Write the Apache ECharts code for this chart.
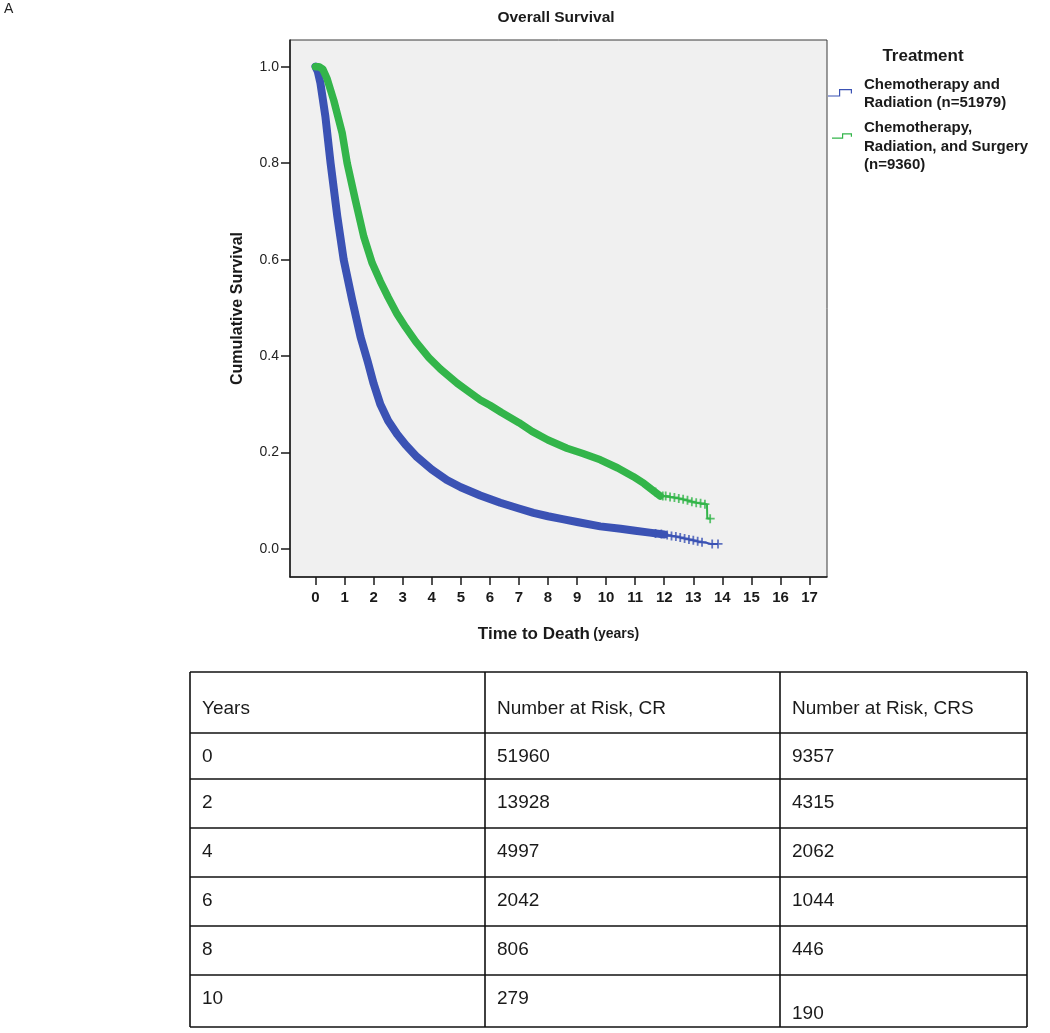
<!DOCTYPE html>
<html>
<head>
<meta charset="utf-8">
<script src="https://cdn.jsdelivr.net/npm/echarts@6/dist/echarts.min.js"></script>
<style>
html,body{margin:0;padding:0;background:#fff;}
#main{width:1050px;height:1033px;}
</style>
</head>
<body>
<div id="main"></div>
<script>
// ---- data ----
const yearTicks = [0,1,2,3,4,5,6,7,8,9,10,11,12,13,14,15,16,17];
const survivalTicks = [0,0.2,0.4,0.6,0.8,1.0];

const crName = 'Chemotherapy and Radiation (n=51979)';
const crsName = 'Chemotherapy, Radiation, and Surgery (n=9360)';
const crLabel = 'Chemotherapy and\nRadiation (n=51979)';
const crsLabel = 'Chemotherapy,\nRadiation, and Surgery\n(n=9360)';

// Kaplan-Meier estimates: [years, cumulative survival]
const crCurve = [[0,1.0],[0.08,0.99],[0.17,0.966],[0.34,0.897],[0.52,0.80],[0.75,0.69],[0.97,0.60],[1.26,0.517],[1.55,0.44],[1.8,0.388],[2.0,0.343],[2.23,0.300],[2.5,0.266],[2.81,0.238],[3.1,0.216],[3.49,0.191],[4.0,0.165],[4.52,0.143],[5.0,0.128],[5.67,0.111],[6.36,0.096],[7.0,0.084],[7.5,0.075],[8.0,0.068],[8.5,0.062],[9.0,0.056],[9.8,0.047],[10.5,0.042],[11.0,0.038],[11.5,0.034],[12.0,0.030]];
const crTail = [[12.0,0.030],[12.4,0.026],[12.7,0.022],[13.0,0.018],[13.2,0.015],[13.45,0.013],[13.6,0.0105],[13.85,0.0105]];
const crCensor = [[11.7,0.032],[11.9,0.031],[12.1,0.029],[12.25,0.027],[12.4,0.026],[12.55,0.024],[12.7,0.022],[12.85,0.020],[13.0,0.018],[13.15,0.016],[13.3,0.014],[13.65,0.0105],[13.85,0.0105]];

const crsCurve = [[0,1.0],[0.12,1.0],[0.25,0.995],[0.4,0.975],[0.63,0.93],[0.92,0.862],[1.09,0.80],[1.37,0.724],[1.66,0.648],[1.95,0.593],[2.23,0.555],[2.5,0.522],[2.81,0.487],[3.1,0.46],[3.45,0.43],[3.9,0.397],[4.3,0.373],[4.87,0.344],[5.3,0.325],[5.67,0.309],[6.0,0.298],[6.4,0.283],[7.0,0.262],[7.45,0.244],[8.0,0.226],[8.65,0.209],[9.2,0.198],[9.8,0.185],[10.4,0.168],[10.94,0.150],[11.3,0.136],[11.6,0.122],[11.86,0.110]];
const crsTail = [[11.86,0.110],[12.1,0.109],[12.3,0.107],[12.5,0.105],[12.7,0.102],[12.9,0.099],[13.1,0.096],[13.3,0.094],[13.47,0.093],[13.48,0.064],[13.6,0.063]];
const crsCensor = [[11.7,0.118],[11.95,0.110],[12.05,0.110],[12.2,0.108],[12.35,0.107],[12.5,0.105],[12.65,0.103],[12.8,0.101],[12.95,0.098],[13.1,0.096],[13.25,0.095],[13.4,0.093],[13.58,0.063]];

// Number at risk table
const tableHeader = ['Years', 'Number at Risk, CR', 'Number at Risk, CRS'];
const riskYears = [0, 2, 4, 6, 8, 10];
const riskCR = [51960, 13928, 4997, 2042, 806, 279];
const riskCRS = [9357, 4315, 2062, 1044, 446, 190];

// ---- styles ----
const FONT = '"Liberation Sans", Arial, Helvetica, sans-serif';
const BLUE = '#3b52b4';
const GREEN = '#33b54a';
const PLUS = 'path://M4,0 L6,0 L6,4 L10,4 L10,6 L6,6 L6,10 L4,10 L4,6 L0,6 L0,4 L4,4 Z';
const ICON_CR = 'path://M0,0 L0,0 Z M31,36 L31,36 Z M0,19.4 L11,19.4 L11,13 L24,13 L24,17.5 L22.8,17.5 L22.8,14.2 L12.2,14.2 L12.2,20.6 L0,20.6 Z';
const ICON_CRS = 'path://M0,0 L0,0 Z M31,54 L31,54 Z M4,17.7 L14,17.7 L14,13.5 L24,13.5 L24,17 L22.8,17 L22.8,14.7 L15.2,14.7 L15.2,18.9 L4,18.9 Z';

// table graphic built from arrays
const colX = [190, 485, 780, 1027];
const rowY = [672, 733, 779, 828, 877, 926, 975, 1027];
const tableEls = [];
rowY.forEach(function (y) {
  tableEls.push({type:'line', shape:{x1:colX[0], y1:y, x2:colX[3], y2:y}, style:{stroke:'#111', lineWidth:1.6}});
});
colX.forEach(function (x) {
  tableEls.push({type:'line', shape:{x1:x, y1:rowY[0], x2:x, y2:rowY[rowY.length-1]}, style:{stroke:'#111', lineWidth:1.6}});
});
function cellText(txt, col, row, extra) {
  const top = rowY[row];
  const off = row === 0 ? 37 : 24;
  tableEls.push({type:'text', x: colX[col] + 12, y: top + off + (extra || 0),
    style:{text: String(txt), font: '19px ' + FONT, fill:'#1a1a1a', verticalAlign:'middle', align:'left'}});
}
tableHeader.forEach(function (t, c) { cellText(t, c, 0); });
riskYears.forEach(function (yv, i) {
  cellText(yv, 0, i + 1);
  cellText(riskCR[i], 1, i + 1);
  cellText(riskCRS[i], 2, i + 1, i === riskYears.length - 1 ? 15 : 0);
});

const chart = echarts.init(document.getElementById('main'), null, {renderer:'canvas', width:1050, height:1033});
chart.setOption({
  animation: false,
  backgroundColor: '#ffffff',
  textStyle: {fontFamily: FONT},
  grid: {left:290, top:40, width:537, height:537, show:true, backgroundColor:'#f0f0f0', borderColor:'#3a3a3a', borderWidth:1, containLabel:false},
  legend: [
    {data:[{name:crName, icon:ICON_CR}], left:828, top:76, orient:'vertical', padding:0, itemWidth:31, itemHeight:36,
     selectedMode:false, itemStyle:{borderWidth:0},
     formatter: function () { return crLabel; },
     textStyle:{fontFamily:FONT, fontWeight:'bold', fontSize:15, lineHeight:18, color:'#1a1a1a'}},
    {data:[{name:crsName, icon:ICON_CRS}], left:828, top:119, orient:'vertical', padding:0, itemWidth:31, itemHeight:54,
     selectedMode:false, itemStyle:{borderWidth:0},
     formatter: function () { return crsLabel; },
     textStyle:{fontFamily:FONT, fontWeight:'bold', fontSize:15, lineHeight:18.5, color:'#1a1a1a'}}
  ],
  xAxis: {
    type:'value', min:-0.877, max:17.6,
    axisLine:{show:true, onZero:false, lineStyle:{color:'#1a1a1a', width:1.5}},
    axisTick:{show:true, customValues:yearTicks, length:8, lineStyle:{color:'#1a1a1a', width:1.5}},
    axisLabel:{show:true, customValues:yearTicks, margin:13, fontFamily:FONT, fontWeight:'bold', fontSize:15, color:'#1a1a1a'},
    splitLine:{show:false},
    name:'{a|Time to Death} {b|(years)}', nameLocation:'middle', nameGap:49,
    nameTextStyle:{rich:{a:{fontFamily:FONT, fontWeight:'bold', fontSize:17, color:'#1a1a1a'}, b:{fontFamily:FONT, fontWeight:'bold', fontSize:14, color:'#1a1a1a'}}}
  },
  yAxis: {
    type:'value', min:-0.058, max:1.0554,
    axisLine:{show:true, onZero:false, lineStyle:{color:'#1a1a1a', width:1.5}},
    axisTick:{show:true, customValues:survivalTicks, length:9, lineStyle:{color:'#1a1a1a', width:1.5}},
    axisLabel:{show:true, customValues:survivalTicks, margin:11, fontFamily:FONT, fontSize:14, color:'#222',
      formatter:function (v) { return v.toFixed(1); }},
    splitLine:{show:false},
    name:'Cumulative Survival', nameLocation:'middle', nameGap:44, nameRotate:90,
    nameTextStyle:{fontFamily:FONT, fontWeight:'bold', fontSize:16, color:'#1a1a1a'}
  },
  graphic: [
    {type:'text', x:4, y:9, style:{text:'A', font:'14px ' + FONT, fill:'#222', verticalAlign:'middle'}},
    {type:'text', x:556, y:18, style:{text:'Overall Survival', font:'bold 15.5px ' + FONT, fill:'#1a1a1a', align:'center', verticalAlign:'middle'}},
    {type:'text', x:923, y:56, style:{text:'Treatment', font:'bold 17px ' + FONT, fill:'#1a1a1a', align:'center', verticalAlign:'middle'}}
  ].concat(tableEls),
  series: [
    {name:crName, type:'line', data:crCurve, showSymbol:false, color:BLUE, z:3,
     lineStyle:{width:8, color:BLUE, cap:'round', join:'round'}},
    {name:'CR tail', type:'line', data:crTail, showSymbol:false, color:BLUE, z:3,
     lineStyle:{width:2, color:BLUE}},
    {name:'CR censored', type:'scatter', data:crCensor, symbol:PLUS, symbolSize:9, itemStyle:{color:BLUE}, z:4},
    {name:crsName, type:'line', data:crsCurve, showSymbol:false, color:GREEN, z:5,
     lineStyle:{width:7.5, color:GREEN, cap:'round', join:'round'}},
    {name:'CRS tail', type:'line', data:crsTail, showSymbol:false, color:GREEN, z:5,
     lineStyle:{width:2, color:GREEN}},
    {name:'CRS censored', type:'scatter', data:crsCensor, symbol:PLUS, symbolSize:9, itemStyle:{color:GREEN}, z:6}
  ]
});
</script>
</body>
</html>
